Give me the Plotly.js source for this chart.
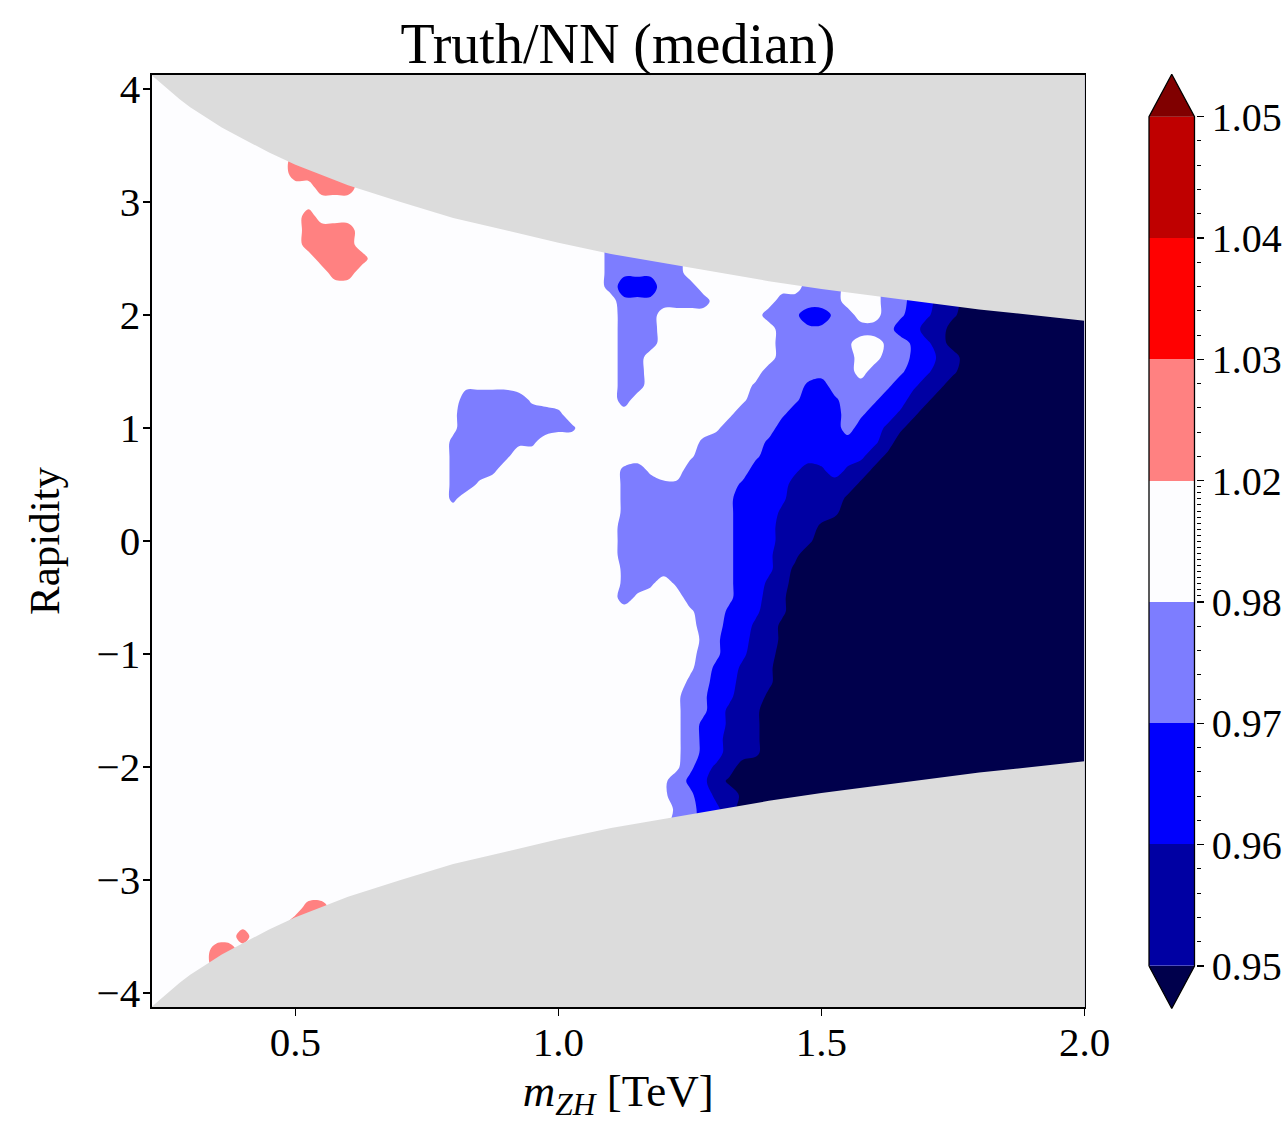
<!DOCTYPE html>
<html lang="en">
<head>
<meta charset="utf-8">
<title>Truth/NN (median)</title>
<script src="https://cdn.plot.ly/plotly-3.0.1.min.js"></script>
<style>
  html, body { margin: 0; padding: 0; background: #ffffff; }
  #chart { width: 1287px; height: 1122px; }
</style>
</head>
<body>
<div id="chart"></div>
<script>
// Contour levels of the Truth/NN ratio and the discrete seismic colours of the
// nine bands (below 0.95, the seven inner bands, above 1.05).
const levels = [0.95, 0.96, 0.97, 0.98, 1.02, 1.03, 1.04, 1.05];
const bandColors = ['#00004c', '#0000a3', '#0000fd', '#7d7dff', '#fdfdff',
                    '#ff8181', '#ff0101', '#bf0000', '#800000'];
// Median ratio inside each band: typical value (digit code), value close to the
// band's upper level (upper-case code, A = band 0) and close to its lower level
// (lower-case code, a = band 0).
const bandRatio     = [0.945, 0.955, 0.965, 0.975, 1.000, 1.025, 1.035, 1.045, 1.055];
const bandRatioHigh = [0.948, 0.958, 0.968, 0.978, 1.012, 1.028, 1.038, 1.048, 1.058];
const bandRatioLow  = [0.942, 0.952, 0.962, 0.972, 0.988, 1.022, 1.032, 1.042, 1.052];

// Grid nodes: invariant mass of the ZH system [TeV] and rapidity.
const mZH = [0.225, 0.25, 0.275, 0.3, 0.325, 0.35, 0.375, 0.4, 0.425, 0.45,
             0.475, 0.5, 0.525, 0.55, 0.575, 0.6, 0.625, 0.65, 0.675, 0.7,
             0.725, 0.75, 0.775, 0.8, 0.825, 0.85, 0.875, 0.9, 0.925, 0.95,
             0.975, 1.0, 1.025, 1.05, 1.075, 1.1, 1.125, 1.15, 1.175, 1.2,
             1.225, 1.25, 1.275, 1.3, 1.325, 1.35, 1.375, 1.4, 1.425, 1.45,
             1.475, 1.5, 1.525, 1.55, 1.575, 1.6, 1.625, 1.65, 1.675, 1.7,
             1.725, 1.75, 1.775, 1.8, 1.825, 1.85, 1.875, 1.9, 1.925, 1.95,
             1.975, 2.0];
const rapidity = [4.125, 4.0, 3.875, 3.75, 3.625, 3.5, 3.375, 3.25, 3.125, 3.0,
                  2.875, 2.75, 2.625, 2.5, 2.375, 2.25, 2.125, 2.0, 1.875, 1.75,
                  1.625, 1.5, 1.375, 1.25, 1.125, 1.0, 0.875, 0.75, 0.625, 0.5,
                  0.375, 0.25, 0.125, 0, -0.125, -0.25, -0.375, -0.5, -0.625, -0.75,
                  -0.875, -1.0, -1.125, -1.25, -1.375, -1.5, -1.625, -1.75, -1.875, -2.0,
                  -2.125, -2.25, -2.375, -2.5, -2.625, -2.75, -2.875, -3.0, -3.125, -3.25,
                  -3.375, -3.5, -3.625, -3.75, -3.875, -4.0, -4.125];

// Median ratio code at each grid node: one string per rapidity row (top to
// bottom), mass columns grouped by ten.
const ratioBands = [
  '4444444444 4444444444 4444444444 4444433333 3444444444 3334443322 1100000000 00',
  '4444444444 4444444444 4444444444 4444433333 3444444444 3334443322 1100000000 00',
  '4444444444 4444444444 4444444444 4444433333 3444444444 3334443322 1100000000 00',
  '4444444444 4444444444 4444444444 4444433333 3444444444 3334443322 1100000000 00',
  '4444444444 4444444444 4444444444 4444433333 3444444444 3334443322 1100000000 00',
  '4444444444 4444444444 4444444444 4444433333 3444444444 3334443322 1100000000 00',
  '4444444444 4555554444 4444444444 4444433333 3444444444 3334443322 1100000000 00',
  '4444444444 4555554444 4444444444 4444433333 3444444444 3334443322 1100000000 00',
  '4444444444 4445554444 4444444444 4444433333 3444444444 3334443322 1100000000 00',
  '4444444444 4444444444 4444444444 4444433333 3444444444 3334443322 1100000000 00',
  '4444444444 4454444444 4444444444 4444433333 3444444444 3334443322 1100000000 00',
  '4444444444 4455554444 4444444444 4444433333 3444444444 3334443322 1100000000 00',
  '4444444444 4455554444 4444444444 4444433333 3444444444 3334443322 1100000000 00',
  '4444444444 4445555444 4444444444 4444433333 3444444444 3334443322 1100000000 00',
  '4444444444 4444554444 4444444444 444443ddd3 3444444444 3334443322 1100000000 00',
  '4444444444 4444444444 4444444444 4444432223 3344444444 3334443322 1100000000 00',
  '4444444444 4444444444 4444444444 444444ddd3 3334444433 3334443322 1100000000 00',
  '4444444444 4444444444 4444444444 4444443334 444444433d 22d3443d2c 1b00000000 00',
  '4444444444 4444444444 4444444444 4444443334 4444444433 dd33333221 1000000000 00',
  '4444444444 4444444444 4444444444 4444443334 4444444433 333D44D3Cc 1000000000 00',
  '4444444444 4444444444 4444444444 4444443344 4444444433 33334433C2 B100000000 00',
  '4444444444 4444444444 4444444444 4444443344 4444444333 3333433d2c 1b00000000 00',
  '4444444444 4444444444 4444eeee44 4444443344 444444D333 C23333d2c1 b000000000 00',
  '4444444444 4444444444 444433333e 4444443444 44444e333d 22C33d221b 0000000000 00',
  '4444444444 4444444444 444e333333 3D44444444 4444e333d2 2223d22Bb0 0000000000 00',
  '4444444444 4444444444 444e333333 3DD4444444 444e333322 222322Bb00 0000000000 00',
  '4444444444 4444444444 444D3333DD 4444444444 44D3333C22 22222c1000 0000000000 00',
  '4444444444 4444444444 444D333D44 4444444444 4e3333d222 2222c1A000 0000000000 00',
  '4444444444 4444444444 444D33D444 444444D3e4 433333222c 1B2B1A0000 0000000000 00',
  '4444444444 4444444444 444D3e4444 444444D33D D3333C2221 1111A00000 0000000000 00',
  '4444444444 4444444444 444D444444 444444D333 3333d222c1 111A000000 0000000000 00',
  '4444444444 4444444444 4444444444 444444D333 3333d222B1 11b0000000 0000000000 00',
  '4444444444 4444444444 4444444444 4444443333 3333d22211 1A00000000 0000000000 00',
  '4444444444 4444444444 4444444444 4444443333 3333d22211 b000000000 0000000000 00',
  '4444444444 4444444444 4444444444 4444443333 3333d22c1b 0000000000 0000000000 00',
  '4444444444 4444444444 4444444444 444444D333 3333d22c1A 0000000000 0000000000 00',
  '4444444444 4444444444 4444444444 444444D3D4 D333d22B10 0000000000 0000000000 00',
  '4444444444 4444444444 4444444444 4444443e44 4333d221b0 0000000000 0000000000 00',
  '4444444444 4444444444 4444444444 4444444444 4e33C2c1b0 0000000000 0000000000 00',
  '4444444444 4444444444 4444444444 4444444444 443322B1A0 0000000000 0000000000 00',
  '4444444444 4444444444 4444444444 4444444444 44Dd2211A0 0000000000 0000000000 00',
  '4444444444 4444444444 4444444444 4444444444 443d2c1100 0000000000 0000000000 00',
  '4444444444 4444444444 4444444444 4444444444 4e3C2B1b00 0000000000 0000000000 00',
  '4444444444 4444444444 4444444444 4444444444 4D32211b00 0000000000 0000000000 00',
  '4444444444 4444444444 4444444444 4444444444 e3d2c11A00 0000000000 0000000000 00',
  '4444444444 4444444444 4444444444 4444444444 e3d2B1b000 0000000000 0000000000 00',
  '4444444444 4444444444 4444444444 4444444444 e3C2B1b000 0000000000 0000000000 00',
  '4444444444 4444444444 4444444444 4444444444 e3C211b000 0000000000 0000000000 00',
  '4444444444 4444444444 4444444444 4444444444 e3C211b000 0000000000 0000000000 00',
  '4444444444 4444444444 4444444444 4444444444 ed2B100000 0000000000 0000000000 00',
  '4444444444 4444444444 4444444444 444444444e 3Cc1A00000 0000000000 0000000000 00',
  '4444444444 4444444444 4444444444 444444444e 3d2B1A0000 0000000000 0000000000 00',
  '4444444444 4444444444 4444444444 4444444444 D32c100000 0000000000 0000000000 00',
  '4444444444 4444444444 4444444444 4444444444 3322100000 0000000000 0000000000 00',
  '4444444444 4444444444 4444444444 4444444444 3322100000 0000000000 0000000000 00',
  '4444444444 4444444444 4444444444 4444444444 3322100000 0000000000 0000000000 00',
  '4444444444 4444444444 4444444444 4444444444 3322100000 0000000000 0000000000 00',
  '4444444444 4444444444 4444444444 4444444444 3322100000 0000000000 0000000000 00',
  '4444444444 4444444444 4444444444 4444444444 3322100000 0000000000 0000000000 00',
  '4444444444 4455444444 4444444444 4444444444 3322100000 0000000000 0000000000 00',
  '4444444444 4555444444 4444444444 4444444444 3322100000 0000000000 0000000000 00',
  '4444444544 4444444444 4444444444 4444444444 3322100000 0000000000 0000000000 00',
  '4444455444 4444444444 4444444444 4444444444 3322100000 0000000000 0000000000 00',
  '4444455444 4444444444 4444444444 4444444444 3322100000 0000000000 0000000000 00',
  '4444444444 4444444444 4444444444 4444444444 3322100000 0000000000 0000000000 00',
  '4444444444 4444444444 4444444444 4444444444 3322100000 0000000000 0000000000 00',
  '4444444444 4444444444 4444444444 4444444444 3322100000 0000000000 0000000000 00'
];

// Kinematic limit |y| < y_max(m_ZH); outside it there is no prediction (grey).
const limitMass = [0.225, 0.24, 0.26, 0.28, 0.30, 0.33, 0.36, 0.40, 0.45, 0.50,
                   0.55, 0.60, 0.70, 0.80, 0.90, 1.00, 1.10, 1.20, 1.30, 1.40,
                   1.50, 1.60, 1.70, 1.80, 1.90, 2.00];
const limitRapidity = [4.13, 4.07, 3.99, 3.91, 3.84, 3.75, 3.66, 3.56, 3.44, 3.33,
                       3.24, 3.15, 3.00, 2.86, 2.75, 2.64, 2.54, 2.46, 2.38, 2.30,
                       2.23, 2.17, 2.11, 2.05, 2.00, 1.95];

const massTicks = [0.5, 1.0, 1.5, 2.0];
const rapidityTicks = [-4, -3, -2, -1, 0, 1, 2, 3, 4];

// ---------------------------------------------------------------------------
const FONT = "'Liberation Serif', 'Times New Roman', serif";
const W = 1287, H = 1122;
const GREY = '#dcdcdc';

function nodeRatio(ch) {
  if (ch >= '0' && ch <= '9') return bandRatio[Number(ch)];
  if (ch >= 'A' && ch <= 'Z') return bandRatioHigh[ch.charCodeAt(0) - 65];
  return bandRatioLow[ch.charCodeAt(0) - 97];
}

// Position of a ratio on the colour bar: every band between two levels has the
// same length, so the contour is computed in this coordinate.
function levelPosition(r) {
  const n = levels.length;
  if (r <= levels[0]) return (r - levels[0]) / (levels[1] - levels[0]);
  for (let k = 0; k < n - 1; k++) {
    if (r <= levels[k + 1]) return k + (r - levels[k]) / (levels[k + 1] - levels[k]);
  }
  return (n - 1) + (r - levels[n - 1]) / (levels[n - 1] - levels[n - 2]);
}

const ratio = ratioBands.map(row => row.replace(/\s+/g, '').split('').map(nodeRatio));
if (ratio.length !== rapidity.length) throw new Error('rows: ' + ratio.length);
ratio.forEach((row, j) => {
  if (row.length !== mZH.length) throw new Error('row ' + j + ' has ' + row.length + ' columns');
});
const zPos = ratio.map(row => row.map(levelPosition));

const nBands = bandColors.length - 1;
const colorscale = bandColors.map((c, k) => [k / nBands, c]);

// Main filled contour
const contour = {
  type: 'contour',
  x: mZH, y: rapidity, z: zPos,
  xaxis: 'x', yaxis: 'y',
  colorscale: colorscale,
  zmin: -0.5, zmax: levels.length - 0.5,
  autocontour: false,
  contours: { start: 0, end: levels.length - 1, size: 1, coloring: 'fill', showlines: false },
  line: { width: 0, smoothing: 1.0 },
  showscale: false,
  hoverinfo: 'skip'
};

// Grey regions beyond the kinematic limit
const xLo = 0.2, xHi = 2.05, yOut = 4.6;
const last = limitRapidity.length - 1;
function limitRegion(sign) {
  return {
    type: 'scatter', mode: 'lines', xaxis: 'x', yaxis: 'y',
    x: limitMass.concat([xHi, xHi, xLo, xLo]),
    y: limitRapidity.map(v => sign * v).concat([sign * limitRapidity[last], sign * yOut, sign * yOut, sign * limitRapidity[0]]),
    fill: 'toself', fillcolor: GREY,
    line: { width: 0, color: GREY },
    hoverinfo: 'skip', showlegend: false
  };
}

// Colour bar: equal-length bands with extension triangles at both ends
const ext = 0.35;
const nLev = levels.length;
const barBands = {
  type: 'heatmap', xaxis: 'x2', yaxis: 'y2',
  x: [0, 1],
  y: levels.map((_, k) => k),
  z: levels.slice(0, -1).map((_, k) => [k + 0.5]),
  zmin: -0.5, zmax: nLev - 0.5,
  colorscale: colorscale, showscale: false, hoverinfo: 'skip'
};
const lowArrow = {
  type: 'scatter', mode: 'lines', xaxis: 'x2', yaxis: 'y2',
  x: [0, 1, 0.5, 0], y: [0, 0, -ext, 0],
  fill: 'toself', fillcolor: bandColors[0], line: { width: 0 },
  hoverinfo: 'skip', showlegend: false
};
const highArrow = {
  type: 'scatter', mode: 'lines', xaxis: 'x2', yaxis: 'y2',
  x: [0, 1, 0.5, 0], y: [nLev - 1, nLev - 1, nLev - 1 + ext, nLev - 1],
  fill: 'toself', fillcolor: bandColors[nBands], line: { width: 0 },
  hoverinfo: 'skip', showlegend: false
};
const barOutline = {
  type: 'scatter', mode: 'lines', xaxis: 'x2', yaxis: 'y2',
  x: [0, 0.5, 1, 1, 0.5, 0, 0],
  y: [0, -ext, 0, nLev - 1, nLev - 1 + ext, nLev - 1, 0],
  line: { width: 1.3, color: '#000' },
  hoverinfo: 'skip', showlegend: false
};

// Minor ticks of the colour bar every 0.002
const minorPos = [];
for (let k = 0; k < nLev - 1; k++) {
  const step = 0.002;
  const nStep = Math.round((levels[k + 1] - levels[k]) / step);
  for (let m = 1; m < nStep; m++) minorPos.push(k + m / nStep);
}

const tickFont = { family: FONT, size: 41, color: '#000' };
const axisCommon = {
  ticks: 'outside', ticklen: 7, tickwidth: 1.5, tickcolor: '#000',
  showline: true, linecolor: '#000', linewidth: 1.6, mirror: true,
  showgrid: false, zeroline: false, tickfont: tickFont
};

// Bar geometry (px) translated into axis domains
const barL = 1149, barR = 1194.5, barTop = 116.7, barBot = 966;
const xr2 = [-0.05, 1.03];
const unitX = barR - barL;
const x2Left = barL + xr2[0] * unitX, x2Right = barL + xr2[1] * unitX;
const yr2 = [-0.4, nLev - 1 + 0.4];
const unitY = (barBot - barTop) / (nLev - 1);
const y2Bot = barBot - yr2[0] * unitY, y2Top = barBot - yr2[1] * unitY;

const layout = {
  width: W, height: H,
  margin: { l: 0, r: 0, t: 0, b: 0 },
  paper_bgcolor: '#ffffff', plot_bgcolor: '#ffffff',
  showlegend: false,
  font: { family: FONT, color: '#000' },
  title: {
    text: 'Truth/NN (median)',
    font: { family: FONT, size: 56, color: '#000' },
    x: 618 / W, xanchor: 'center', xref: 'paper',
    y: 1 - 43 / H, yanchor: 'middle', yref: 'container'
  },
  xaxis: Object.assign({}, axisCommon, {
    domain: [152 / W, 1084.5 / W], anchor: 'y',
    range: [0.2274, 2.0],
    tickmode: 'array', tickvals: massTicks, ticktext: massTicks.map(v => v.toFixed(1)),
    ticklabelstandoff: -9,
    title: { text: '<i>m</i><sub><i>ZH</i></sub> [TeV]', font: { family: FONT, size: 45, color: '#000' }, standoff: 20 }
  }),
  yaxis: Object.assign({}, axisCommon, {
    domain: [1 - 1007 / H, 1 - 75 / H], anchor: 'x',
    range: [-4.125, 4.125],
    tickmode: 'array', tickvals: rapidityTicks,
    ticklabelstandoff: -5,
    title: { text: 'Rapidity', font: { family: FONT, size: 43, color: '#000' }, standoff: 23 }
  }),
  xaxis2: {
    domain: [x2Left / W, x2Right / W], anchor: 'y2', range: xr2,
    visible: false, showgrid: false, zeroline: false, fixedrange: true
  },
  yaxis2: {
    domain: [1 - y2Bot / H, 1 - y2Top / H], anchor: 'x2', side: 'right',
    range: yr2, showgrid: false, zeroline: false, showline: false,
    tickmode: 'array', tickvals: levels.map((_, k) => k), ticktext: levels.map(v => v.toFixed(2)),
    ticks: 'outside', ticklen: 7, tickwidth: 1.3, tickcolor: '#000',
    tickfont: { family: FONT, size: 40, color: '#000' }, ticklabelstandoff: 0,
    minor: { tickmode: 'array', tickvals: minorPos, ticks: 'outside', ticklen: 4, tickwidth: 1, tickcolor: '#000', showgrid: false }
  }
};

Plotly.newPlot('chart', [contour, limitRegion(1), limitRegion(-1), barBands, lowArrow, highArrow, barOutline],
  layout, { displayModeBar: false, staticPlot: true });
</script>
</body>
</html>
